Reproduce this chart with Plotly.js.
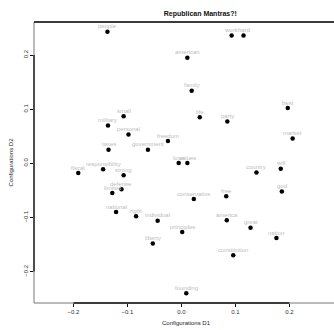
<!DOCTYPE html>
<html>
<head>
<meta charset="utf-8">
<script src="https://cdn.plot.ly/plotly-3.0.1.min.js"></script>
<style>
html,body{margin:0;padding:0;overflow:hidden;background:#fff;}
#chart{width:340px;height:330px;}
</style>
</head>
<body>
<div id="chart"></div>
<script>
const words = ["people","small","military","personal","freedom","taxes","government",
  "work","hard","american","family","best","life","party","market",
  "fiscal","responsibility","strong","defense","limited","national","right","individual","liberty",
  "love","values","country","will","god","conservative","free","america","great","principles","nation","constitution","founding"];
const dim1 = [-0.137,-0.107,-0.136,-0.098,-0.025,-0.135,-0.062,
  0.093,0.115,0.011,0.019,0.197,0.034,0.085,0.206,
  -0.191,-0.145,-0.107,-0.111,-0.128,-0.121,-0.084,-0.044,-0.053,
  -0.005,0.011,0.139,0.184,0.186,0.023,0.083,0.084,0.128,0.0015,0.176,0.096,0.009];
const dim2 = [0.243,0.087,0.070,0.053,0.041,0.025,0.025,
  0.236,0.236,0.195,0.134,0.102,0.085,0.077,0.046,
  -0.018,-0.011,-0.022,-0.048,-0.055,-0.090,-0.098,-0.106,-0.148,
  0.0005,0.0005,-0.017,-0.010,-0.052,-0.066,-0.061,-0.105,-0.119,-0.127,-0.138,-0.170,-0.240];
const tickVals = [-0.2,-0.1,0.0,0.1,0.2];
const tickText = ["\u22120.2","\u22120.1","0.0","0.1","0.2"];

const xr = [-0.273, 0.290], yr = [-0.258, 0.261];
const font = "Liberation Sans, Arial, Helvetica, sans-serif";

const trace = {
  x: dim1, y: dim2, type: 'scatter', mode: 'markers',
  marker: {color: '#000', size: 4.5},
  hoverinfo: 'none', cliponaxis: false
};

const labels = words.map((w, i) => ({
  x: dim1[i], y: dim2[i], xref: 'x', yref: 'y', text: w, showarrow: false,
  xanchor: 'center', yanchor: 'middle', yshift: 5.5,
  font: {family: font, size: 6, color: '#bdbdbd'}
}));

const layout = {
  width: 340, height: 330,
  margin: {l: 34, r: 2, t: 22, b: 27},
  paper_bgcolor: '#fff', plot_bgcolor: '#fff',
  showlegend: false,
  title: {text: '<b>Republican Mantras?!</b>', font: {family: font, size: 7, color: '#111'}, x: 0.547, xref: 'paper', y: 0.96, yref: 'container', yanchor: 'middle', xanchor: 'center'},
  xaxis: {range: xr, showgrid: false, zeroline: false, showline: false,
    tickvals: tickVals, ticktext: tickText, ticks: 'outside', ticklen: 3, tickcolor: '#111', tickwidth: 1,
    tickfont: {family: font, size: 6, color: '#333'},
    title: {text: 'Configurations D1', font: {family: font, size: 6, color: '#222'}, standoff: 6}},
  yaxis: {range: yr, showgrid: false, zeroline: false, showline: false,
    tickvals: tickVals, ticktext: tickText, ticks: 'outside', ticklen: 3, tickcolor: '#111', tickwidth: 1,
    tickangle: -90,
    tickfont: {family: font, size: 6, color: '#333'},
    title: {text: 'Configurations D2', font: {family: font, size: 6, color: '#222'}, standoff: 8}},
  annotations: labels,
  shapes: [
    {type: 'rect', xref: 'paper', yref: 'paper', x0: 0, x1: 1, y0: 0, y1: 1, line: {color: '#777', width: 1}},
    {type: 'line', xref: 'x', yref: 'paper', x0: -0.2, x1: 0.2, y0: 0, y1: 0, line: {color: '#111', width: 1.3}},
    {type: 'line', xref: 'paper', yref: 'y', x0: 0, x1: 0, y0: -0.2, y1: 0.2, line: {color: '#111', width: 1.3}},
    {type: 'line', xref: 'paper', yref: 'paper', x0: 0, x1: 1, y0: 1, y1: 1, line: {color: '#111', width: 1.3}}
  ]
};
Plotly.newPlot('chart', [trace], layout, {staticPlot: true, displayModeBar: false});
</script>
</body>
</html>
